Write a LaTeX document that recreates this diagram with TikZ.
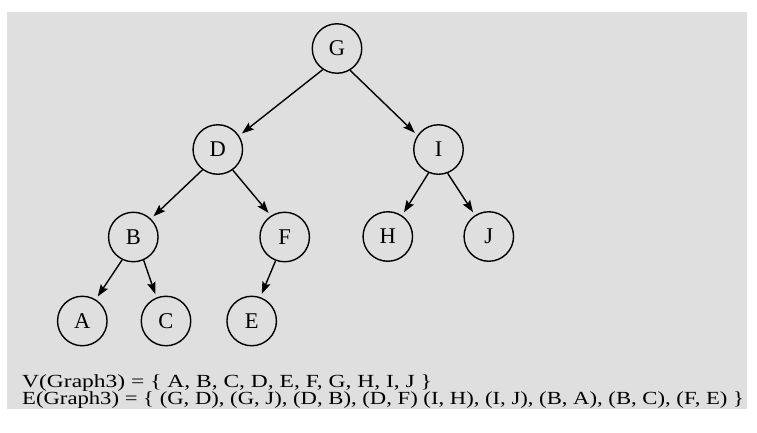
\documentclass[tikz,border=0pt]{standalone}
\usepackage{fontspec}
\setmainfont{Liberation Serif}
\usetikzlibrary{arrows.meta}
\definecolor{bggray}{RGB}{223,223,223}
\tikzset{
  vertex/.style={circle, draw=black, line width=1.4pt, minimum size=49.5pt, inner sep=0pt,
    font=\fontsize{22.5}{24}\selectfont},
  edge/.style={line width=1.4pt, -{Stealth[length=12pt,width=8.5pt,inset=2pt]}, shorten >=3.5pt},
  settext/.style={anchor=base west, inner sep=0pt, font=\fontsize{18.5}{22}\selectfont}
}
\begin{document}
\begin{tikzpicture}[x=1pt,y=-1pt]
\useasboundingbox (0,0) rectangle (757,432);
\fill[white] (0,0) rectangle (757,432);
\fill[bggray] (7,12) rectangle (747,409);
\node[vertex] (G) at (337,48.5) {G};
\node[vertex] (D) at (217.8,149.5) {D};
\node[vertex] (I) at (438.5,149.5) {I};
\node[vertex] (B) at (133.3,237) {B};
\node[vertex] (F) at (284.7,237) {F};
\node[vertex] (H) at (387.8,236.5) {H};
\node[vertex] (J) at (488.8,236.5) {J};
\node[vertex] (A) at (82.3,321) {A};
\node[vertex] (C) at (166,321) {C};
\node[vertex] (E) at (251.7,321) {E};
\draw[edge] (G.-124) -- (D.33);
\draw[edge] (G.-59) -- (I.146);
\draw[edge] (D.-127) -- (B.46);
\draw[edge] (D.-54) -- (F.123);
\draw[edge] (I.-113) -- (H.56);
\draw[edge] (I.-69) -- (J.123);
\draw[edge] (B.-116) -- (A.58);
\draw[edge] (B.-66) -- (C.112);
\draw[edge] (F.-111) -- (E.70);
\node[settext] (v) at (22,387) {\scalebox{1.27}[1]{V(Graph3) = \{ A, B, C, D, E, F, G, H, I, J \}}};
\node[settext] (e) at (22,404.5) {\scalebox{1.225}[1]{E(Graph3) = \{ (G, D), (G, J), (D, B), (D, F) (I, H), (I, J), (B, A), (B, C), (F, E) \}}};
\end{tikzpicture}
\end{document}
